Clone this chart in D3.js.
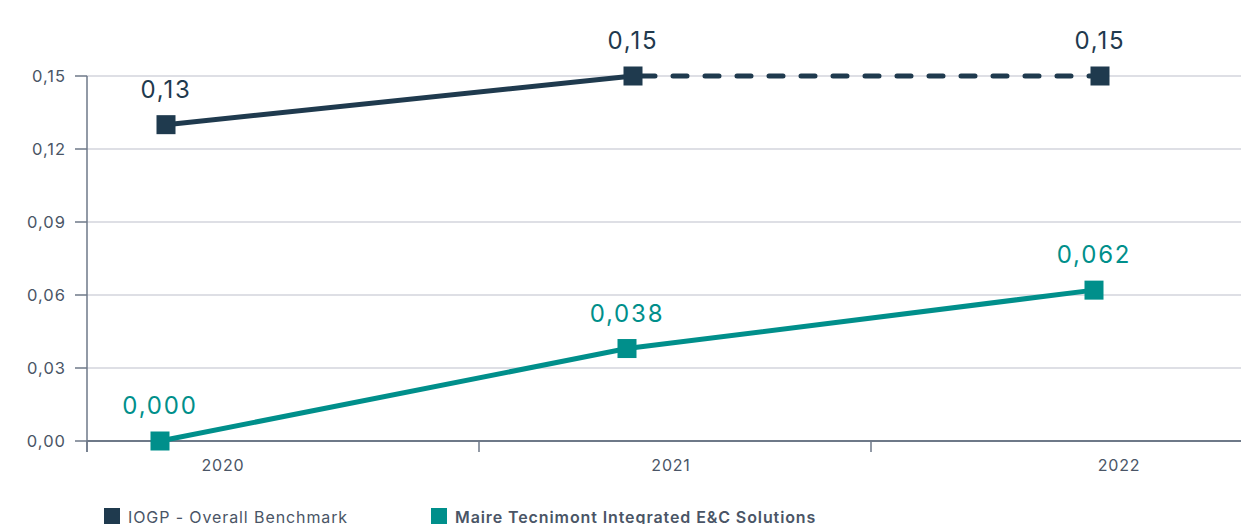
<!DOCTYPE html>
<html><head><meta charset="utf-8">
<script src="https://cdn.jsdelivr.net/npm/d3@7"></script>
<style>body{margin:0;background:#fff;overflow:hidden}text{font-family:Inter,"Open Sans",sans-serif}</style>
</head><body><svg id="c" width="1241" height="524"></svg>
<script>
const years = ["2020","2021","2022"];
const iogp = [0.13, 0.15, 0.15];
const maire = [0.000, 0.038, 0.062];
const iogpLabels = ["0,13","0,15","0,15"];
const maireLabels = ["0,000","0,038","0,062"];
const yTicks = [0,0.03,0.06,0.09,0.12,0.15];
const yTickLabels = ["0,00","0,03","0,06","0,09","0,12","0,15"];
const seriesNames = ["IOGP - Overall Benchmark","Maire Tecnimont Integrated E&C Solutions"];

const navy="#1f3a4e", teal="#008f8b", axisCol="#6e7988", gridCol="#d3d5dc", txt="#4a5566";
const svg=d3.select("#c");
const y=d3.scaleLinear().domain([0,0.15]).range([441,76]);
const xBand=d3.scaleBand().domain(years).range([87,1263]);
const xPt=d3.scalePoint().domain(years).range([166,1100]);
const xLab=d3.scalePoint().domain(years).range([223,1119]);

// grid
svg.append("g").selectAll("line").data(yTicks.slice(1)).join("line")
 .attr("x1",87).attr("x2",1241).attr("y1",d=>y(d)).attr("y2",d=>y(d))
 .attr("stroke",gridCol).attr("stroke-width",1.3);
// y axis
svg.append("line").attr("x1",87).attr("x2",87).attr("y1",y(0.15)).attr("y2",452).attr("stroke",axisCol).attr("stroke-width",1.5);
svg.append("g").selectAll("line").data(yTicks).join("line")
 .attr("x1",75).attr("x2",87).attr("y1",d=>y(d)).attr("y2",d=>y(d)).attr("stroke",axisCol).attr("stroke-width",1.5);
svg.append("g").selectAll("text").data(yTicks).join("text")
 .attr("x",66).attr("y",d=>y(d)).attr("dy","0.35em").attr("text-anchor","end")
 .attr("font-size",16.5).attr("letter-spacing",1).attr("fill",txt).text((d,i)=>yTickLabels[i]);
// x axis
svg.append("line").attr("x1",87).attr("x2",1241).attr("y1",y(0)).attr("y2",y(0)).attr("stroke",axisCol).attr("stroke-width",2);
svg.append("g").selectAll("line").data(years).join("line")
 .attr("x1",d=>xBand(d)).attr("x2",d=>xBand(d)).attr("y1",441).attr("y2",452).attr("stroke",axisCol).attr("stroke-width",1.5);
svg.append("g").selectAll("text").data(years).join("text")
 .attr("x",d=>xLab(d)).attr("y",471).attr("text-anchor","middle").attr("font-size",16).attr("letter-spacing",0.8).attr("fill",txt).text(d=>d);

const line=d3.line();
// IOGP
const ip=years.map((d,i)=>[xPt(d),y(iogp[i])]);
svg.append("path").attr("d",line(ip.slice(0,2))).attr("fill","none").attr("stroke",navy).attr("stroke-width",5);
svg.append("path").attr("d",line(ip.slice(1,3))).attr("fill","none").attr("stroke",navy).attr("stroke-width",5)
 .attr("stroke-dasharray","14 18").attr("stroke-linecap","round").attr("stroke-dashoffset",-8);
// Maire
const mp=years.map((d,i)=>[xPt(d)-6,y(maire[i])]);
svg.append("path").attr("d",line(mp)).attr("fill","none").attr("stroke",teal).attr("stroke-width",5);

function markers(pts,col,labels){
 svg.append("g").selectAll("rect").data(pts).join("rect")
  .attr("x",d=>d[0]-9.5).attr("y",d=>d[1]-9.5).attr("width",19).attr("height",19).attr("fill",col);
 svg.append("g").selectAll("text").data(pts).join("text")
  .attr("x",d=>d[0]).attr("y",d=>d[1]-27).attr("text-anchor","middle").attr("font-size",24).attr("letter-spacing",1.8).attr("fill",col)
  .text((d,i)=>labels[i]);
}
markers(ip,navy,iogpLabels);
markers(mp,teal,maireLabels);

// legend
const lg=[{x:104,c:navy,w:400},{x:431,c:teal,w:600}];
lg.forEach((l,i)=>{
 svg.append("rect").attr("x",l.x).attr("y",508).attr("width",16).attr("height",18).attr("fill",l.c);
 svg.append("text").attr("x",l.x+24).attr("y",523).attr("font-size",16).attr("letter-spacing",0.9).attr("font-weight",l.w).attr("fill",txt).text(seriesNames[i]);
});
</script></body></html>
